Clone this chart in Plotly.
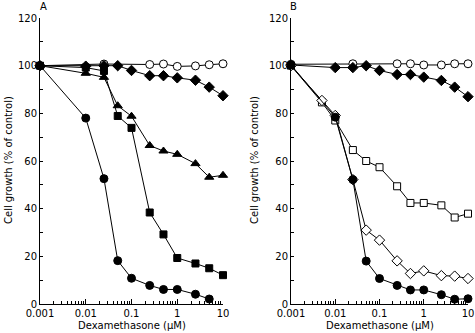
import plotly.graph_objects as go

# ---- data ----
# Panel A
a_open_circle_x = [0.001, 0.025, 0.25, 0.5, 1, 2.5, 5, 10]
a_open_circle_y = [100, 100.7, 100.5, 100.7, 99.7, 99.9, 100.4, 100.8]

a_diamond_x = [0.001, 0.01, 0.025, 0.05, 0.1, 0.25, 0.5, 1, 2.5, 5, 10]
a_diamond_y = [100, 99.8, 100, 100, 98, 95.8, 95.8, 94.9, 93.9, 91, 87.4]

a_triangle_x = [0.001, 0.01, 0.025, 0.05, 0.1, 0.25, 0.5, 1, 2.5, 5, 10]
a_triangle_y = [100, 96.8, 95.1, 83.2, 78.8, 66.5, 64.2, 62.8, 58.9, 53.2, 54.0]

a_circle_x = [0.001, 0.01, 0.025, 0.05, 0.1, 0.25, 0.5, 1, 2.5, 5]
a_circle_y = [100, 78, 52.6, 18.2, 10.8, 7.8, 6.1, 6.1, 4.1, 2.1]

a_square_x = [0.001, 0.01, 0.025, 0.05, 0.1, 0.25, 0.5, 1, 2.5, 5, 10]
a_square_y = [100, 99.2, 97.8, 78.9, 73.9, 38.4, 29.2, 19.3, 17.0, 15.0, 12.1]

# Panel B
b_open_circle_x = [0.001, 0.025, 0.25, 0.5, 1, 2.5, 5, 10]
b_open_circle_y = [100.6, 100.8, 100.8, 100.8, 100.3, 100.3, 100.8, 100.8]

b_diamond_x = [0.001, 0.01, 0.025, 0.05, 0.1, 0.25, 0.5, 1, 2.5, 5, 10]
b_diamond_y = [100.3, 99.2, 99.2, 100, 98, 96.3, 96.3, 95.2, 93.8, 91, 87]

b_open_square_x = [0.001, 0.005, 0.01, 0.025, 0.05, 0.1, 0.25, 0.5, 1, 2.5, 5, 10]
b_open_square_y = [100, 84.6, 77.0, 64.6, 60, 57.4, 49.4, 42.4, 42.4, 41.4, 36.3, 37.9]

b_open_diamond_x = [0.001, 0.005, 0.01, 0.025, 0.05, 0.1, 0.25, 0.5, 1, 2.5, 5, 10]
b_open_diamond_y = [100, 85.4, 79.1, 52.2, 31.0, 26.8, 18.1, 12.8, 13.9, 11.9, 11.7, 10.7]

b_circle_x = [0.001, 0.01, 0.025, 0.05, 0.1, 0.25, 0.5, 1, 2.5, 5, 10]
b_circle_y = [100.3, 78.4, 52.2, 18.0, 10.7, 7.8, 5.9, 5.9, 3.9, 2.0, 2.2]

x_tickvals = [0.001, 0.01, 0.1, 1, 10]
x_ticktext = ["0.001", "0.01", "0.1", "1", "10"]
y_tickvals = [0, 20, 40, 60, 80, 100, 120]

x_title = "Dexamethasone (μM)"
y_title = "Cell growth (% of control)"
panel_labels = ["A", "B"]

FONT = "DejaVu Sans"

fig = go.Figure()


def add(x, y, symbol, fill, xa, ya, size=8):
    fig.add_trace(go.Scatter(
        x=x, y=y, mode="lines+markers", xaxis=xa, yaxis=ya,
        line=dict(color="black", width=1),
        marker=dict(symbol=symbol, size=size, color=fill,
                    line=dict(color="black", width=1)),
        cliponaxis=False, showlegend=False))


add(a_open_circle_x, a_open_circle_y, "circle", "white", "x", "y")
add(a_diamond_x, a_diamond_y, "diamond", "black", "x", "y")
add(a_triangle_x, a_triangle_y, "triangle-up", "black", "x", "y")
add(a_circle_x, a_circle_y, "circle", "black", "x", "y")
add(a_square_x, a_square_y, "square", "black", "x", "y", 7)

add(b_open_circle_x, b_open_circle_y, "circle", "white", "x2", "y2")
add(b_diamond_x, b_diamond_y, "diamond", "black", "x2", "y2")
add(b_open_square_x, b_open_square_y, "square", "white", "x2", "y2", 7)
add(b_open_diamond_x, b_open_diamond_y, "diamond", "white", "x2", "y2")
add(b_circle_x, b_circle_y, "circle", "black", "x2", "y2")

W, H = 475, 333
ydom = [(H - 304) / H, (H - 18) / H]

tfont = dict(size=10, color="black", family=FONT)

xcommon = dict(
    type="log", range=[-3, 1], tickmode="array", tickvals=x_tickvals,
    ticktext=x_ticktext, ticks="inside", ticklen=5, tickcolor="black",
    showline=True, linecolor="black", linewidth=1, showgrid=False,
    zeroline=False, tickfont=tfont, automargin=False,
    minor=dict(ticks="inside", ticklen=3, dtick="D1", tickcolor="black",
               showgrid=False),
)
ycommon = dict(
    range=[0, 120.01], tickmode="array", tickvals=y_tickvals, ticks="inside",
    ticklen=3, tickcolor="black", showline=True, linecolor="black",
    linewidth=1, showgrid=False, zeroline=False, tickfont=tfont,
    automargin=False,
    minor=dict(ticks="inside", ticklen=3, dtick=10, tickcolor="black",
               showgrid=False),
)

annotations = []
panels = [(40, 223, 8, 43), (291, 468, 254, 293)]
for (x0, x1, ytx, lx), lab in zip(panels, panel_labels):
    annotations.append(dict(text=lab, x=lx / W, y=1 - 6 / H, xref="paper",
                            yref="paper", showarrow=False, font=tfont,
                            xanchor="center", yanchor="middle"))
    annotations.append(dict(text=x_title, x=(x0 + x1) / 2 / W,
                            y=1 - 325 / H, xref="paper", yref="paper",
                            showarrow=False, font=tfont,
                            xanchor="center", yanchor="middle"))
    annotations.append(dict(text=y_title, x=ytx / W, y=1 - 160 / H,
                            xref="paper", yref="paper", textangle=-90,
                            showarrow=False, font=tfont,
                            xanchor="center", yanchor="middle"))

fig.update_layout(
    width=W, height=H,
    margin=dict(l=0, r=0, t=0, b=0),
    paper_bgcolor="white", plot_bgcolor="white",
    xaxis=dict(domain=[40 / W, 223 / W], anchor="y", **xcommon),
    yaxis=dict(domain=ydom, anchor="x", **ycommon),
    xaxis2=dict(domain=[291 / W, 468 / W], anchor="y2", **xcommon),
    yaxis2=dict(domain=ydom, anchor="x2", **ycommon),
    annotations=annotations,
)

fig.write_html(
    "out.html",
    config={"displayModeBar": False},
    post_script="document.body.style.margin='0';document.body.style.overflow='hidden';",
)
